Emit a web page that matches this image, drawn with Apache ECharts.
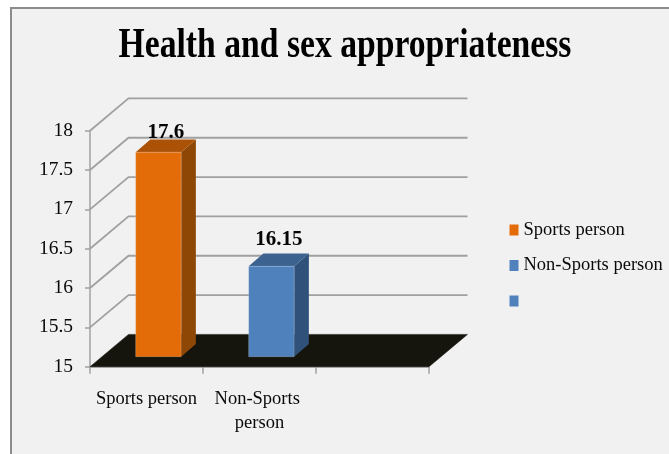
<!DOCTYPE html>
<html>
<head>
<meta charset="utf-8">
<script src="https://cdn.jsdelivr.net/npm/echarts@6/dist/echarts.min.js"></script>
<style>
html,body{margin:0;padding:0;background:#fff;width:669px;height:454px;overflow:hidden}
#panel{position:absolute;left:10px;top:7px;width:700px;height:500px;background:#f1f1f1;border:2px solid #8c8c8c}
#chart{position:absolute;left:0;top:0;width:669px;height:454px}
</style>
</head>
<body>
<div id="panel"></div>
<div id="chart"></div>
<script>
const titleText = 'Health and sex appropriateness';
const categories = ['Sports person', 'Non-Sports person', ''];
const sportsValues = [17.6, null, null];
const nonSportsValues = [null, 16.15, null];
const yTicks = [15, 15.5, 16, 16.5, 17, 17.5, 18];
const legendNames = ['Sports person', 'Non-Sports person', ' '];

const FONT = '"Liberation Serif", serif';
const WALL = {dx: 38.5, dy: 32.3};
const BAR = {width: 45.5, dx: 14.7, dy: 12.7, startX: 11.9, startY: 10};
const LABEL_LIFT = {0: 7, 1: 14};
const GRID_GRAY = '#a0a0a0';

function wallItem(params, api) {
  const c = params.coordSys;
  const y = api.coord([0, api.value(0)])[1];
  const left = c.x, right = c.x + c.width;
  return {type: 'polyline', silent: true,
    shape: {points: [[left, y], [left + WALL.dx, y - WALL.dy], [right + WALL.dx, y - WALL.dy]]},
    style: {fill: null, stroke: GRID_GRAY, lineWidth: 1.8}};
}
function floorItem(params, api) {
  const c = params.coordSys;
  const y = api.coord([0, yTicks[0]])[1];
  const left = c.x, right = c.x + c.width;
  return {type: 'polygon', silent: true,
    shape: {points: [[left, y], [right, y], [right + WALL.dx, y - WALL.dy], [left + WALL.dx, y - WALL.dy]]},
    style: {fill: '#16150d', stroke: '#16150d', lineWidth: 0.5}};
}
function barRenderer(front, top, side) {
  return function (params, api) {
    const idx = api.value(0), v = api.value(1);
    if (v == null || isNaN(v)) return null;
    const base = api.coord([idx, yTicks[0]]);
    const head = api.coord([idx, v]);
    const x0 = base[0] + BAR.startX - BAR.width / 2, x1 = x0 + BAR.width;
    const yb = base[1] - BAR.startY, yt = head[1] - BAR.startY;
    const d = BAR.dx, e = BAR.dy;
    return {type: 'group', children: [
      {type: 'text', silent: true, style: {
        text: String(v), x: (x0 + x1) / 2 + d / 2, y: yt - e - LABEL_LIFT[idx],
        align: 'center', verticalAlign: 'middle',
        font: 'bold 21px ' + FONT, fill: '#050505'}},
      {type: 'polygon', shape: {points: [[x1, yb], [x1 + d, yb - e], [x1 + d, yt - e], [x1, yt]]},
        style: {fill: side}},
      {type: 'polygon', shape: {points: [[x0, yt], [x1, yt], [x1 + d, yt - e], [x0 + d, yt - e]]},
        style: {fill: top}},
      {type: 'rect', shape: {x: x0, y: yt, width: BAR.width, height: yb - yt},
        style: {fill: front, stroke: 'rgba(255,255,255,0.25)', lineWidth: 0.8}}
    ]};
  };
}

const chart = echarts.init(document.getElementById('chart'), null, {renderer: 'canvas'});
chart.setOption({
  animation: false,
  backgroundColor: 'transparent',
  graphic: [{type: 'text', x: 345, y: 46, scaleX: 0.935, scaleY: 1.2, silent: true,
    style: {text: titleText, align: 'center', verticalAlign: 'middle',
      font: 'bold 36px ' + FONT, fill: '#000'}}],
  legend: {data: legendNames, orient: 'vertical', left: 509.5, top: 220, padding: 0,
    icon: 'rect', itemWidth: 9, itemHeight: 11, itemGap: 15.5, selectedMode: false,
    textStyle: {fontFamily: FONT, fontSize: 18.5, color: '#0a0a0a', lineHeight: 20}},
  grid: {left: 90, top: 130.7, right: 240, bottom: 87.3},
  xAxis: {type: 'category', data: categories,
    axisLine: {lineStyle: {color: GRID_GRAY, width: 1.5}},
    axisTick: {show: true, length: 7, alignWithLabel: false, lineStyle: {color: GRID_GRAY, width: 1.5}},
    axisLabel: {interval: 0, margin: 20, width: 113, overflow: 'break', lineHeight: 24,
      fontFamily: FONT, fontSize: 18.5, color: '#0a0a0a'}},
  yAxis: {type: 'value', min: yTicks[0], max: yTicks[yTicks.length - 1], interval: 0.5,
    splitLine: {show: false},
    axisLine: {show: true, lineStyle: {color: GRID_GRAY, width: 1.5}},
    axisTick: {show: true, length: 5, lineStyle: {color: GRID_GRAY, width: 1.5}},
    axisLabel: {margin: 17, fontFamily: FONT, fontSize: 19.5, color: '#0a0a0a'}},
  series: [
    {type: 'custom', name: 'walls', z: 1, data: yTicks.slice(1).map(v => [v]), encode: {y: 0},
      renderItem: wallItem, silent: true},
    {type: 'custom', name: 'floor', z: 2, data: [[yTicks[0]]], encode: {y: 0},
      renderItem: floorItem, silent: true},
    {type: 'custom', name: legendNames[0], z: 3, itemStyle: {color: '#e36c09'},
      data: sportsValues.map((v, i) => [i, v]), encode: {x: 0, y: 1},
      renderItem: barRenderer('#e36c09', '#ac5207', '#8f4706')},
    {type: 'custom', name: legendNames[1], z: 3, itemStyle: {color: '#4f81bd'},
      data: nonSportsValues.map((v, i) => [i, v]), encode: {x: 0, y: 1},
      renderItem: barRenderer('#4f81bd', '#3c6290', '#30527a')},
    {type: 'custom', name: legendNames[2], z: 3, itemStyle: {color: '#4f81bd'},
      data: [], renderItem: () => null}
  ]
});
</script>
</body>
</html>
